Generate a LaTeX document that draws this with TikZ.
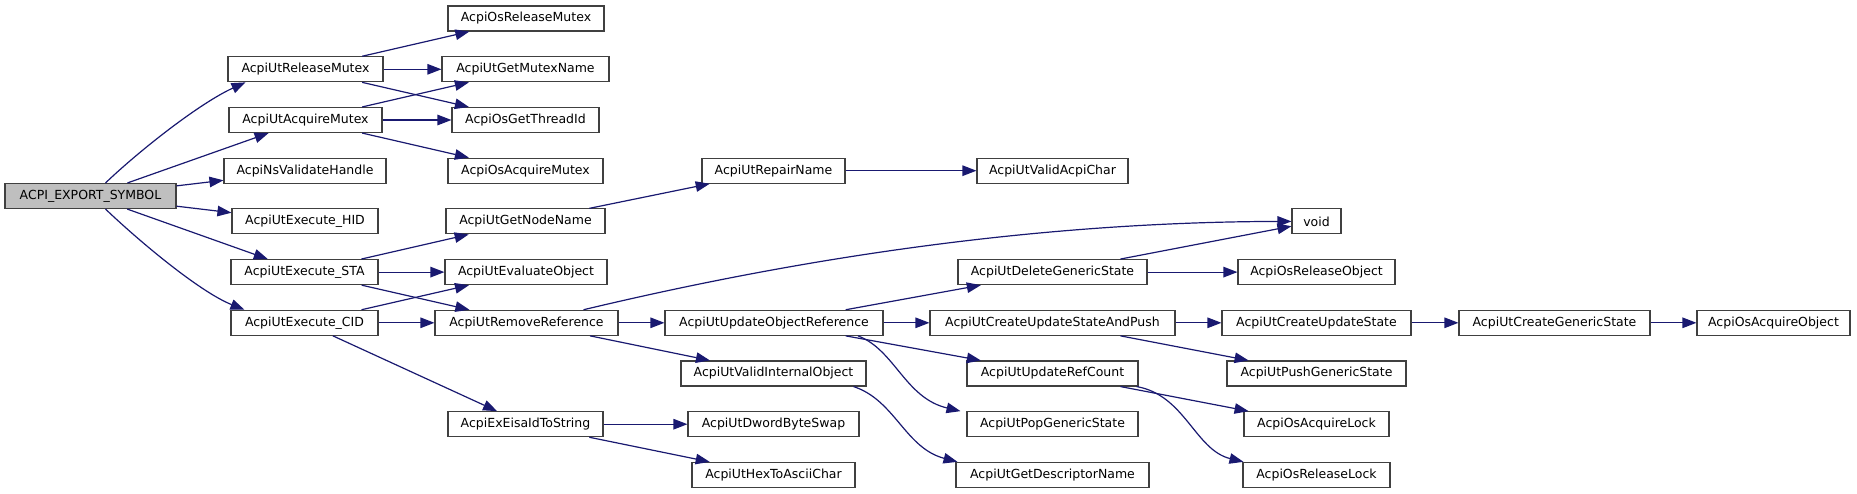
\documentclass[tikz,border=0pt]{standalone}
\usepackage{fontspec}
\setmainfont{DejaVu Sans}
\usetikzlibrary{arrows.meta}
\definecolor{edgeblue}{HTML}{191970}
\definecolor{rootgray}{HTML}{BFBFBF}
\definecolor{boxline}{HTML}{404040}
\begin{document}
\begin{tikzpicture}[x=1pt,y=-1pt,
  fn/.style={draw=boxline, line width=1.1pt, fill=white, rectangle, inner sep=0pt,
    minimum height=25pt, font=\fontsize{12.5}{15}\selectfont, text=black},
  rootfn/.style={fn, fill=rootgray},
  call/.style={draw=edgeblue, line width=1.2pt, -{Triangle[length=14pt,width=10.5pt]}}]
\useasboundingbox (0,0) rectangle (1857,493);
% column 0
\node[rootfn, minimum width=171pt] (root) at (90.5,196) {ACPI\_EXPORT\_SYMBOL};
% column 1
\node[fn, minimum width=155pt] (relm) at (305.5,69.3) {AcpiUtReleaseMutex};
\node[fn, minimum width=153pt] (acqm) at (305.5,120) {AcpiUtAcquireMutex};
\node[fn, minimum width=162pt] (nsval) at (305,170.7) {AcpiNsValidateHandle};
\node[fn, minimum width=146pt] (hid) at (305,221.4) {AcpiUtExecute\_HID};
\node[fn, minimum width=147pt] (sta) at (304.5,272.1) {AcpiUtExecute\_STA};
\node[fn, minimum width=147pt] (cid) at (304.5,322.8) {AcpiUtExecute\_CID};
% column 2
\node[fn, minimum width=156pt] (osrelm) at (526,18.5) {AcpiOsReleaseMutex};
\node[fn, minimum width=167pt] (getmn) at (525.5,69.3) {AcpiUtGetMutexName};
\node[fn, minimum width=147pt] (thread) at (525.5,120) {AcpiOsGetThreadId};
\node[fn, minimum width=155pt] (osacqm) at (525.5,170.7) {AcpiOsAcquireMutex};
\node[fn, minimum width=159pt] (nodename) at (525.5,221.4) {AcpiUtGetNodeName};
\node[fn, minimum width=162pt] (evalobj) at (526,272.1) {AcpiUtEvaluateObject};
\node[fn, minimum width=183pt] (remref) at (526.5,322.8) {AcpiUtRemoveReference};
\node[fn, minimum width=155pt] (eisa) at (525.5,424.2) {AcpiExEisaIdToString};
% column 3
\node[fn, minimum width=143pt] (repair) at (773.5,170.7) {AcpiUtRepairName};
\node[fn, minimum width=218pt] (uor) at (774,322.8) {AcpiUtUpdateObjectReference};
\node[fn, minimum width=185pt] (validint) at (773.5,373.5) {AcpiUtValidInternalObject};
\node[fn, minimum width=171pt] (dword) at (773.5,424.2) {AcpiUtDwordByteSwap};
\node[fn, minimum width=163pt] (hex) at (773.5,474.9) {AcpiUtHexToAsciiChar};
% column 4
\node[fn, minimum width=151pt] (validchar) at (1052.5,170.7) {AcpiUtValidAcpiChar};
\node[fn, minimum width=189pt] (delgs) at (1052.5,272.1) {AcpiUtDeleteGenericState};
\node[fn, minimum width=245pt] (cusap) at (1052.5,322.8) {AcpiUtCreateUpdateStateAndPush};
\node[fn, minimum width=171pt] (urc) at (1052.5,373.5) {AcpiUtUpdateRefCount};
\node[fn, minimum width=171pt] (popgs) at (1052.5,424.2) {AcpiUtPopGenericState};
\node[fn, minimum width=193pt] (getdesc) at (1052.5,474.9) {AcpiUtGetDescriptorName};
% column 5
\node[fn, minimum width=49pt] (void) at (1316.5,221.4) {void};
\node[fn, minimum width=157pt] (osrelobj) at (1316.5,272.1) {AcpiOsReleaseObject};
\node[fn, minimum width=189pt] (cus) at (1316.5,322.8) {AcpiUtCreateUpdateState};
\node[fn, minimum width=179pt] (pushgs) at (1316.5,373.5) {AcpiUtPushGenericState};
\node[fn, minimum width=145pt] (osacqlock) at (1316.5,424.2) {AcpiOsAcquireLock};
\node[fn, minimum width=147pt] (osrellock) at (1316.5,474.9) {AcpiOsReleaseLock};
% columns 6, 7
\node[fn, minimum width=191pt] (cgs) at (1554.5,322.8) {AcpiUtCreateGenericState};
\node[fn, minimum width=153pt] (osacqobj) at (1773.5,322.8) {AcpiOsAcquireObject};
% edges from root
\draw[call] ([xshift=15pt]root.north) .. controls (140,150) and (200,103) .. ([xshift=-60pt]relm.south);
\draw[call] (root) -- (acqm);
\draw[call] (root) -- (nsval);
\draw[call] (root) -- (hid);
\draw[call] (root) -- (sta);
\draw[call] ([xshift=15pt]root.south) .. controls (140,242) and (200,292) .. ([xshift=-60pt]cid.north);
% column 1 edges
\draw[call] (relm) -- (osrelm);
\draw[call] (relm) -- (getmn);
\draw[call] (relm) -- (thread);
\draw[call] (acqm) -- (getmn);
\draw[call] (acqm) -- (thread);
\draw[call] (acqm) -- (osacqm);
\draw[call] (sta) -- (nodename);
\draw[call] (sta) -- (evalobj);
\draw[call] (sta) -- (remref);
\draw[call] (cid) -- (evalobj);
\draw[call] (cid) -- (remref);
\draw[call] (cid) -- (eisa);
% column 2 edges
\draw[call] (nodename) -- (repair);
\draw[call] ([xshift=57pt]remref.north) .. controls (750,270) and (1000,222) .. (void.west);
\draw[call] (remref) -- (uor);
\draw[call] (remref) -- (validint);
\draw[call] (eisa) -- (dword);
\draw[call] (eisa) -- (hex);
% column 3 edges
\draw[call] (repair) -- (validchar);
\draw[call] (uor) -- (delgs);
\draw[call] (uor) -- (cusap);
\draw[call] (uor) -- (urc);
\draw[call] ([xshift=84pt]uor.south) .. controls (895,350) and (905,398) .. ([xshift=-92pt]popgs.north);
\draw[call] ([xshift=80pt]validint.south) .. controls (895,400) and (905,448) .. ([xshift=-95pt]getdesc.north);
% column 4 edges
\draw[call] (delgs) -- (void);
\draw[call] (delgs) -- (osrelobj);
\draw[call] (cusap) -- (cus);
\draw[call] (cusap) -- (pushgs);
\draw[call] (urc) -- (osacqlock);
\draw[call] ([xshift=-2pt]urc.south east) .. controls (1185,395) and (1195,450) .. ([xshift=-73pt]osrellock.north);
% further
\draw[call] (cus) -- (cgs);
\draw[call] (cgs) -- (osacqobj);
\end{tikzpicture}
\end{document}
